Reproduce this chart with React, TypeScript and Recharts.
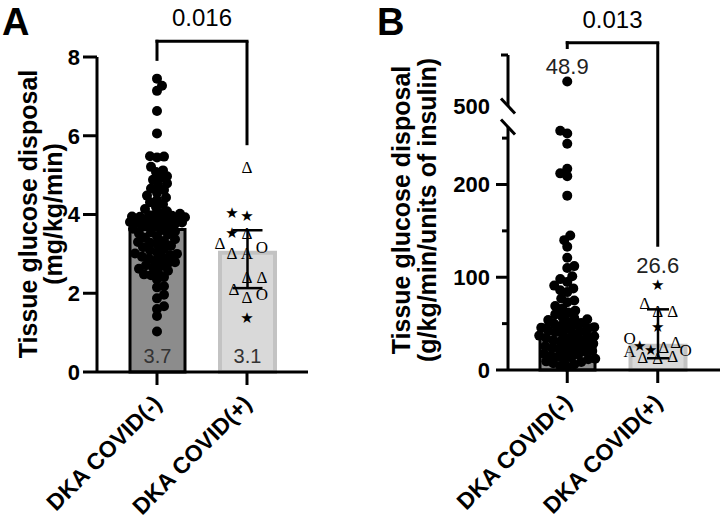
import React from 'react';
import {
  ComposedChart,
  Bar,
  Cell,
  Scatter,
  XAxis,
  YAxis,
  ErrorBar,
  LabelList,
  ReferenceLine,
  ReferenceDot,
} from 'recharts';

const FONT = "'Liberation Sans', Arial, Helvetica, sans-serif";
const GLYPH_FONT = "'Liberation Serif', 'DejaVu Serif', 'DejaVu Sans', serif";

const groups = ['DKA COVID(-)', 'DKA COVID(+)'];

// Panel A: tissue glucose disposal (mg/kg/min)
const aMeans = [3.62, 3.03];
const aMeanLabels = ['3.7', '3.1'];
const aErrLow = [0, 0.9];
const aErrHigh = [0, 0.57];
const aTicks = [0, 2, 4, 6, 8];
const aPValue = '0.016';
const aCovidNeg = [
  7.45, 7.27, 7.14, 6.63, 6.06, 5.48, 5.45, 5.47, 5.21, 5.12, 5.08, 4.97, 4.92, 4.88,
  4.79, 4.74, 4.66, 4.62, 4.55, 4.48, 4.43, 4.37, 4.31, 4.26, 4.19, 4.14, 4.08, 4.04,
  4.02, 3.99, 3.98, 3.97, 3.95, 3.94, 3.93, 3.92, 3.9, 3.89, 3.87, 3.86, 3.85, 3.83,
  3.81, 3.8, 3.78, 3.76, 3.74, 3.72, 3.7, 3.68, 3.64, 3.6, 3.57, 3.55, 3.52, 3.49,
  3.45, 3.41, 3.37, 3.33, 3.3, 3.28, 3.26, 3.21, 3.17, 3.13, 3.09, 3.04, 3.01, 3.0,
  2.97, 2.93, 2.9, 2.88, 2.84, 2.79, 2.76, 2.71, 2.7, 2.66, 2.62, 2.57, 2.53, 2.48,
  2.46, 2.41, 2.35, 2.18, 2.15, 1.96, 1.87, 1.67, 1.6, 1.42, 1.03,
];
const aCovidPos = [5.2, 3.96, 4.03, 3.53, 3.53, 3.27, 3.15, 3.02, 3.02, 2.41, 2.41, 2.1, 1.9, 1.96, 1.37];
const aCovidPosSymbols = ['Δ', '★', '★', 'Δ', '★', 'Δ', 'O', 'A', 'Δ', 'Δ', 'Δ', 'Δ', 'Δ', 'O', '★'];

// Panel B: tissue glucose disposal (g/kg/min/units of insulin), broken axis
const bMeans = [48.5, 26.2];
const bMeanLabels = ['48.9', '26.6'];
const bErrLow = [0, 13.5];
const bErrHigh = [0, 39.2];
const bLowerTicks = [0, 50, 100, 150, 200, 250];
const bLowerLabeled = [0, 100, 200];
const bLowerMax = 262;
const bUpperTicks = [500, 750];
const bPValue = '0.013';
const bCovidNeg = [
  620, 258, 255, 244, 217, 212, 209, 188, 145, 140, 133, 121, 112, 110, 101, 98, 95,
  91, 88, 86, 84, 77, 75, 73, 69, 66, 64, 62, 60, 57.4, 55.9, 54.6, 53.8, 52.1, 50.7,
  49.9, 48.3, 47.6, 46.2, 45.5, 44.1, 43.7, 42.2, 41.5, 40.8, 39.3, 38.6, 37.1, 36.4,
  35.8, 34.2, 33.9, 32.5, 31.7, 30.6, 29.8, 28.4, 27.9, 26.3, 25.6, 24.7, 23.5, 22.8,
  21.6, 20.4, 19.9, 18.2, 17.5, 16.8, 15.1, 14.6, 13.4, 12.2, 11.5, 10.7, 9.3, 8.6,
  7.2, 5.9, 4.4, 3.6,
];
const bCovidPos = [91.6, 72, 63, 63, 46, 34, 29.4, 25.9, 24.4, 21.5, 20.5, 19.7, 13.7, 12.6, 14.3];
const bCovidPosSymbols = ['★', 'Δ', 'Δ', 'Δ', '★', 'O', 'Δ', '★', 'Δ', '★', 'O', 'A', 'Δ', 'Δ', 'Δ'];

// simple beeswarm: horizontal pixel offsets so markers don't pile up
function swarm(values: number[], pxPerUnit: number, minDist: number, maxOff: number): number[] {
  const order = values.map((_, i) => i).sort((a, b) => values[a] - values[b]);
  const placed: { x: number; y: number }[] = [];
  const out = new Array(values.length).fill(0);
  for (const i of order) {
    const y = values[i] * pxPerUnit;
    const side = i % 2 ? 1 : -1;
    let best = 0;
    let bestGap = -1;
    for (let k = 0; k <= 2 * maxOff; k++) {
      const off = k === 0 ? 0 : (k % 2 ? 1 : -1) * side * Math.ceil(k / 2);
      let gap = Infinity;
      for (const p of placed) {
        const d = Math.hypot(p.x - off, p.y - y);
        if (d < gap) gap = d;
      }
      if (gap >= minDist) {
        best = off;
        break;
      }
      if (gap > bestGap) {
        bestGap = gap;
        best = off;
      }
    }
    placed.push({ x: best, y });
    out[i] = best;
  }
  return out;
}

const toPoints = (cat: string, values: number[], symbols: string[] | null, dxs: number[]) =>
  values.map((v, i) => ({ cat, v, sym: symbols ? symbols[i] : 'dot', dx: dxs[i] }));

const A_PX = 315 / 8;
const B_PX = 243 / bLowerMax;

const aBars = groups.map((cat, i) => ({ cat, mean: aMeans[i], label: aMeanLabels[i], err: [aErrLow[i], aErrHigh[i]] }));
const bBars = groups.map((cat, i) => ({ cat, mean: bMeans[i], label: bMeanLabels[i], err: [bErrLow[i], bErrHigh[i]] }));

const aPoints = [
  ...toPoints(groups[0], aCovidNeg, null, swarm(aCovidNeg, A_PX, 7, 28)),
  ...toPoints(groups[1], aCovidPos, aCovidPosSymbols, swarm(aCovidPos, A_PX, 15, 27)),
];

const bNegLower = bCovidNeg.filter((v) => v <= bLowerMax);
const bLowerPoints = [
  ...toPoints(groups[0], bNegLower, null, swarm(bNegLower, B_PX, 7, 28)),
  ...toPoints(groups[1], bCovidPos, bCovidPosSymbols, swarm(bCovidPos, B_PX, 15, 28)),
];
// one row per group for the upper (500+) segment, so both categories stay on the axis
const bUpperRows = groups.map((cat, i) => {
  const above = (i === 0 ? bCovidNeg : bCovidPos).filter((v) => v > bLowerMax);
  return { cat, v: above.length ? above[0] : null, sym: 'dot', dx: 0 };
});

const barFill = ['#8c8c8c', '#d9d9d9'];
const barStroke = ['#000', '#c3c3c3'];
const barStrokeWidth = [3, 4];

const Marker = (props: any) => {
  const { cx, cy, payload } = props;
  if (cx == null || cy == null || payload == null || payload.v == null) return null;
  const x = cx + payload.dx;
  if (payload.sym === 'dot') return <circle cx={x} cy={cy} r={5} fill="#000" />;
  return (
    <text
      x={x}
      y={cy}
      textAnchor="middle"
      dominantBaseline="central"
      fontFamily={GLYPH_FONT}
      fontSize={payload.sym === '★' ? 15 : 17}
      fill="#000"
    >
      {payload.sym}
    </text>
  );
};

const xTick = (dy: number) => (p: any) => (
  <g>
    <line x1={p.x} y1={p.y} x2={p.x} y2={p.y + 13} stroke="#000" strokeWidth={3} />
    <text
      transform={`translate(${p.x + 6},${p.y + dy}) rotate(-45)`}
      textAnchor="end"
      fontFamily={FONT}
      fontWeight="bold"
      fontSize={23}
      fill="#000"
    >
      {p.payload.value}
    </text>
  </g>
);

const slash = (x: number, y: number) => (
  <line x1={x - 7} y1={y - 7.5} x2={x + 7} y2={y + 7.5} stroke="#000" strokeWidth={3} />
);

const tickLabel = (x: number, y: number, v: number) => (
  <text x={x} y={y} dy="0.36em" textAnchor="end" fontFamily={FONT} fontWeight="bold" fontSize={22} fill="#000">
    {v}
  </text>
);

const aYTick = (p: any) => (
  <g>
    <line x1={p.x - 14} y1={p.y} x2={p.x} y2={p.y} stroke="#000" strokeWidth={3} />
    {tickLabel(p.x - 17, p.y, p.payload.value)}
  </g>
);

const bLowerYTick = (p: any) => {
  const v = p.payload.value;
  if (v === bLowerMax) return slash(p.x, p.y);
  const major = bLowerLabeled.includes(v);
  return (
    <g>
      <line x1={p.x - (major ? 12 : 6)} y1={p.y} x2={p.x} y2={p.y} stroke="#000" strokeWidth={3} />
      {major && tickLabel(p.x - 18, p.y, v)}
    </g>
  );
};

const bUpperYTick = (p: any) => {
  const v = p.payload.value;
  if (v === bUpperTicks[0]) {
    return (
      <g>
        {slash(p.x, p.y)}
        {tickLabel(p.x - 18, p.y, v)}
      </g>
    );
  }
  return <line x1={p.x - 7} y1={p.y} x2={p.x} y2={p.y} stroke="#000" strokeWidth={3} />;
};

const yTitle = (lines: string[], xs: number[], cy: number) => () => (
  <g>
    {lines.map((t, i) => (
      <text
        key={i}
        transform={`translate(${xs[i]},${cy}) rotate(-90)`}
        textAnchor="middle"
        dominantBaseline="central"
        fontFamily={FONT}
        fontWeight="bold"
        fontSize={25}
        fill="#000"
      >
        {t}
      </text>
    ))}
  </g>
);

const insideBottom = (p: any) => (
  <text
    x={p.x + p.width / 2}
    y={p.y + p.height - 9}
    textAnchor="middle"
    fontFamily={FONT}
    fontSize={20}
    fill="#333"
  >
    {p.value}
  </text>
);

const pLabel = (text: string) => (p: any) => {
  const vb = p.viewBox;
  return (
    <text x={vb.x + vb.width / 2} y={vb.y - 15} textAnchor="middle" fontFamily={FONT} fontSize={24} fill="#000">
      {text}
    </text>
  );
};

const meanAbove = (text: string, off: number) => (p: any) => {
  const vb = p.viewBox;
  return (
    <text x={vb.x + vb.width / 2} y={vb.y + vb.height / 2 - off} textAnchor="middle" fontFamily={FONT} fontSize={22} fill="#222">
      {text}
    </text>
  );
};

const line = { stroke: '#000', strokeWidth: 3 };

const bracket = (top: number, leftEnd: number, rightEnd: number, text: string) => [
  <ReferenceLine
    key="h"
    segment={[{ x: groups[0], y: top }, { x: groups[1], y: top }]}
    ifOverflow="visible"
    {...line}
    strokeLinecap="square"
    label={pLabel(text)}
  />,
  <ReferenceLine
    key="l"
    segment={[{ x: groups[0], y: top }, { x: groups[0], y: leftEnd }]}
    ifOverflow="visible"
    {...line}
    strokeLinecap="square"
  />,
  <ReferenceLine
    key="r"
    segment={[{ x: groups[1], y: top }, { x: groups[1], y: rightEnd }]}
    ifOverflow="visible"
    {...line}
  />,
];

export default function App() {
  return (
    <div style={{ position: 'absolute', left: 0, top: 0, width: 720, height: 522, background: '#fff' }}>
      <div style={{ position: 'absolute', left: 0, top: 0 }}>
        <ComposedChart width={320} height={522} data={aBars} margin={{ top: 57, right: 12, bottom: 0, left: 0 }}>
          <XAxis
            dataKey="cat"
            type="category"
            allowDuplicatedCategory={false}
            height={150}
            padding={{ left: 15, right: 16 }}
            axisLine={line}
            tickLine={false}
            tickSize={0}
            tickMargin={0}
            interval={0}
            tick={xTick(33)}
          />
          <YAxis
            type="number"
            domain={[0, 8]}
            ticks={aTicks}
            interval={0}
            width={97}
            axisLine={line}
            tickLine={false}
            tickSize={0}
            tickMargin={0}
            tick={aYTick}
            label={yTitle(['Tissue glucose disposal', '(mg/kg/min)'], [28, 53], 214)}
          />
          <Bar dataKey="mean" barSize={55} isAnimationActive={false}>
            {aBars.map((_, i) => (
              <Cell key={i} fill={barFill[i]} stroke={barStroke[i]} strokeWidth={barStrokeWidth[i]} />
            ))}
            <ErrorBar dataKey="err" direction="y" width={15} stroke="#000" strokeWidth={2.5} />
            <LabelList dataKey="label" content={insideBottom} />
          </Bar>
          <Scatter data={aPoints} dataKey="v" shape={Marker} isAnimationActive={false} />
          {bracket(8.4, 7.94, 5.76, aPValue)}
        </ComposedChart>
      </div>

      <div style={{ position: 'absolute', left: 360, top: 0 }}>
        <ComposedChart width={360} height={522} data={bBars} margin={{ top: 127, right: 0, bottom: 0, left: 0 }}>
          <XAxis
            dataKey="cat"
            type="category"
            allowDuplicatedCategory={false}
            height={152}
            padding={{ left: 14, right: 17 }}
            axisLine={line}
            tickLine={false}
            tickSize={0}
            tickMargin={0}
            interval={0}
            tick={xTick(34)}
          />
          <YAxis
            type="number"
            domain={[0, bLowerMax]}
            ticks={[...bLowerTicks, bLowerMax]}
            interval={0}
            width={148}
            axisLine={line}
            tickLine={false}
            tickSize={0}
            tickMargin={0}
            tick={bLowerYTick}
            label={yTitle(['Tissue glucose disposal', '(g/kg/min/units of insulin)'], [41, 67], 210)}
          />
          <Bar dataKey="mean" barSize={55} isAnimationActive={false}>
            {bBars.map((_, i) => (
              <Cell key={i} fill={barFill[i]} stroke={barStroke[i]} strokeWidth={barStrokeWidth[i]} />
            ))}
            <ErrorBar dataKey="err" direction="y" width={11} stroke="#000" strokeWidth={2.5} />
          </Bar>
          <Scatter data={bLowerPoints} dataKey="v" shape={Marker} isAnimationActive={false} />
          {bracket(352.9, 347.7, 132.9, bPValue)}
          <ReferenceDot
            x={groups[1]}
            y={Math.max(...bCovidPos)}
            r={1}
            fill="none"
            stroke="none"
            label={meanAbove(bMeanLabels[1], 12)}
          />
        </ComposedChart>
      </div>

      <div style={{ position: 'absolute', left: 360, top: 0 }}>
        <ComposedChart width={360} height={125} data={bUpperRows} margin={{ top: 55, right: 0, bottom: 19, left: 0 }}>
          <XAxis
            dataKey="cat"
            type="category"
            scale="band"
            allowDuplicatedCategory={false}
            hide
            padding={{ left: 14, right: 17 }}
          />
          <YAxis
            type="number"
            domain={[bUpperTicks[0], bUpperTicks[1]]}
            ticks={bUpperTicks}
            interval={0}
            width={148}
            axisLine={line}
            tickLine={false}
            tickSize={0}
            tickMargin={0}
            tick={bUpperYTick}
          />
          <Scatter dataKey="v" shape={Marker} isAnimationActive={false} />
          <ReferenceDot
            x={groups[0]}
            y={Math.max(...bCovidNeg)}
            r={1}
            fill="none"
            stroke="none"
            label={meanAbove(bMeanLabels[0], 7.5)}
          />
        </ComposedChart>
      </div>

      <svg width={720} height={522} style={{ position: 'absolute', left: 0, top: 0, pointerEvents: 'none' }}>
        <text x={2} y={35} fontFamily={FONT} fontWeight="bold" fontSize={38} fill="#000">A</text>
        <text x={377} y={35} fontFamily={FONT} fontWeight="bold" fontSize={38} fill="#000">B</text>
      </svg>
    </div>
  );
}
